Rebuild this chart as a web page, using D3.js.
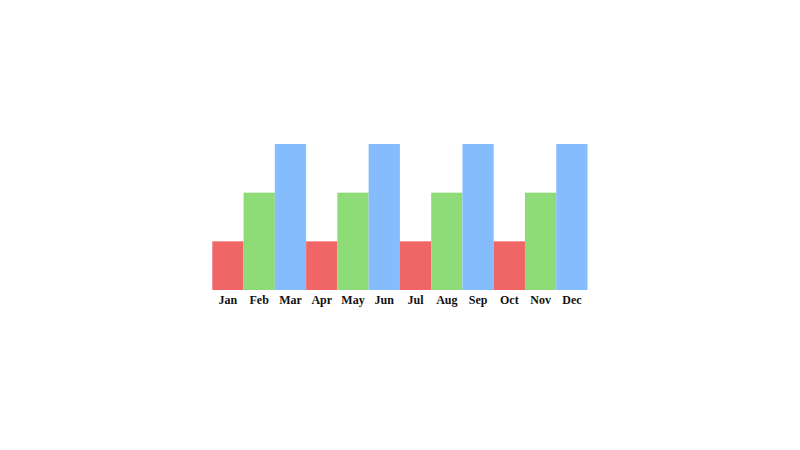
<!DOCTYPE html>
<html>
<head>
<meta charset="utf-8">
<script src="https://cdn.jsdelivr.net/npm/d3@7"></script>
<style>
  html, body { margin: 0; padding: 0; background: #fff; }
  svg { display: block; }
</style>
</head>
<body>
<div id="chart"></div>
<script>
// Monthly bars, colours cycle red / green / blue
const months = ['Jan', 'Feb', 'Mar', 'Apr', 'May', 'Jun', 'Jul', 'Aug', 'Sep', 'Oct', 'Nov', 'Dec'];
const values = [1, 2, 3, 1, 2, 3, 1, 2, 3, 1, 2, 3];
const palette = ['#f06666', '#8edc78', '#85bcfe'];

const width = 800, height = 450;
const margin = { top: 144, right: 212.5, bottom: 160, left: 212.3 };

const svg = d3.select('#chart')
    .append('svg')
    .attr('width', width)
    .attr('height', height);

const x = d3.scaleBand()
    .domain(months)
    .range([margin.left, width - margin.right])
    .padding(0);

const y = d3.scaleLinear()
    .domain([0, 3])
    .range([height - margin.bottom, margin.top]);

svg.append('g')
    .selectAll('rect')
    .data(months)
    .join('rect')
    .attr('x', d => x(d))
    .attr('y', (d, i) => y(values[i]))
    .attr('width', x.bandwidth())
    .attr('height', (d, i) => y(0) - y(values[i]))
    .attr('fill', (d, i) => palette[i % palette.length]);

// axis labels only, no line or ticks
const axis = svg.append('g')
    .attr('transform', `translate(0,${y(0)})`)
    .call(d3.axisBottom(x).tickSize(0).tickPadding(5));

axis.select('.domain').remove();
axis.selectAll('text')
    .attr('font-family', '"Liberation Serif", "Times New Roman", serif')
    .attr('font-size', 12)
    .attr('font-weight', 'bold')
    .attr('fill', '#111');
</script>
</body>
</html>
